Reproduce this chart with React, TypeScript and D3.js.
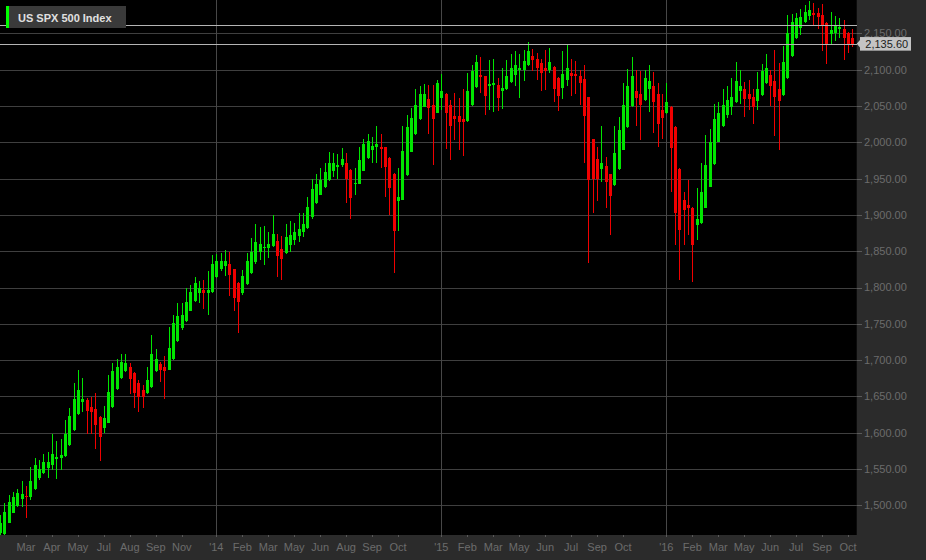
import React from 'react';
import * as d3 from 'd3';

// Weekly OHLC of the US SPX 500 Index
const opens = [
  1462,1460,1476,1490,1499,1509,1513,1512,1522,1538,1544,1552,1555,1564,1565,1568,1583,1604,1626,1642,
  1645,1636,1632,1622,1607,1614,1635,1660,1675,1685,1691,1682,1668,1659,1654,1663,1685,1694,1690,1687,
  1701,1726,1744,1754,1768,1781,1793,1797,1793,1794,1814,1825,1830,1833,1825,1806,1792,1805,1820,1835,
  1849,1854,1854,1857,1864,1853,1847,1858,1865,1871,1877,1882,1897,1916,1928,1938,1948,1960,1966,1969,
  1972,1962,1942,1943,1960,1978,1990,1993,1994,1993,1979,1957,1919,1921,1955,1987,2011,2032,2049,2059,
  2052,2041,2061,2066,2052,2036,2036,2032,2029,2051,2076,2093,2091,2078,2079,2079,2071,2073,2083,2093,
  2100,2100,2106,2119,2115,2109,2102,2100,2104,2089,2075,2086,2095,2094,2092,2087,2062,2004,1977,1963,
  1968,1956,1941,1963,1990,2021,2050,2071,2067,2058,2073,2078,2066,2045,2040,2048,2021,1963,1921,1914,
  1910,1886,1889,1910,1939,1970,2001,2022,2038,2048,2055,2070,2074,2066,2063,2057,2065,2081,2093,2084,
  2073,2065,2088,2119,2143,2157,2166,2174,2178,2178,2175,2165,2149,2151,2156,2156,2150,2143,
];
const highs = [
  1486,1503,1514,1518,1522,1533,1526,1553,1565,1562,1570,1574,1598,1588,1592,1617,1634,1668,1687,1675,
  1648,1649,1654,1623,1637,1679,1696,1701,1709,1709,1696,1683,1673,1666,1690,1735,1715,1698,1705,1745,
  1762,1778,1778,1799,1804,1814,1809,1811,1823,1845,1846,1847,1851,1849,1826,1807,1824,1847,1868,1888,
  1884,1885,1876,1900,1874,1871,1888,1892,1889,1902,1902,1925,1950,1956,1964,1972,1986,1985,1984,1992,
  1985,1963,1964,1994,2005,2012,2007,2022,2011,1994,1980,1958,1965,2022,2038,2047,2074,2077,2080,2079,
  2079,2086,2094,2068,2058,2068,2061,2073,2095,2107,2120,2117,2092,2114,2115,2089,2103,2113,2121,2126,
  2121,2127,2138,2129,2123,2115,2127,2130,2105,2090,2126,2134,2115,2112,2099,2107,2063,2005,1993,2022,
  1980,1957,2022,2035,2081,2101,2117,2100,2098,2100,2106,2097,2082,2066,2082,2050,2022,1964,1931,1948,
  1911,1937,1971,2010,2019,2053,2056,2073,2078,2088,2111,2100,2083,2086,2073,2097,2108,2122,2099,2127,
  2109,2132,2175,2177,2178,2183,2189,2194,2192,2185,2190,2166,2180,2174,2171,2169,2152,2156,
];
const lows = [
  1455,1459,1475,1489,1498,1498,1483,1507,1521,1535,1543,1538,1549,1536,1549,1567,1582,1603,1624,1629,
  1598,1598,1577,1561,1600,1613,1634,1659,1674,1684,1653,1634,1629,1634,1653,1662,1684,1670,1646,1686,
  1700,1725,1741,1753,1767,1780,1778,1771,1762,1793,1813,1823,1816,1788,1767,1738,1790,1804,1819,1833,
  1838,1831,1840,1856,1814,1810,1846,1849,1859,1862,1870,1881,1895,1915,1927,1937,1947,1952,1949,1966,
  1916,1895,1927,1942,1960,1977,1972,1971,1964,1925,1900,1820,1878,1920,1954,1986,2010,2031,2048,2012,
  1969,2040,2045,1991,1976,2003,1989,1981,2028,2050,2075,2068,2038,2045,2042,2043,2046,2072,2082,2078,
  2061,2084,2105,2098,2086,2071,2072,2096,2055,2043,2059,2077,2064,2067,2051,1971,1834,1902,1919,1945,
  1909,1872,1940,1962,1989,2020,2049,2022,2003,2057,2042,2013,1993,2005,2039,1932,1859,1811,1859,1872,
  1807,1865,1888,1910,1938,1969,2000,2021,2033,2037,2054,2053,2035,2045,2025,2044,2064,2080,2050,2008,
  1990,2064,2087,2118,2142,2148,2165,2168,2160,2156,2126,2108,2134,2140,2143,2114,2123,2131,
];
const closes = [
  1476,1491,1505,1511,1517,1516,1511,1533,1555,1550,1560,1559,1571,1566,1569,1598,1623,1647,1659,1646,
  1630,1628,1611,1594,1620,1656,1685,1691,1697,1696,1674,1655,1649,1649,1672,1709,1702,1686,1685,1716,
  1751,1761,1762,1780,1794,1806,1800,1792,1797,1833,1836,1836,1837,1817,1786,1780,1816,1836,1849,1862,
  1860,1856,1860,1874,1843,1839,1869,1872,1877,1880,1887,1911,1935,1942,1948,1959,1971,1972,1969,1977,
  1950,1923,1944,1976,1997,2002,1995,1997,1991,1966,1937,1878,1925,1988,2021,2034,2051,2067,2067,2047,
  2032,2081,2071,2040,2022,2032,2028,2028,2071,2098,2110,2090,2064,2080,2081,2061,2075,2092,2103,2107,
  2103,2112,2126,2114,2102,2095,2098,2110,2074,2064,2094,2103,2092,2091,2081,2036,1948,1950,1949,1972,
  1945,1926,1985,2017,2051,2078,2091,2061,2051,2088,2084,2055,2025,2034,2056,1992,1903,1879,1907,1909,
  1859,1894,1931,1969,2000,2032,2041,2052,2058,2063,2084,2077,2059,2059,2048,2074,2098,2102,2078,2063,
  2057,2111,2150,2166,2171,2173,2180,2182,2175,2172,2160,2135,2154,2160,2159,2143,2136,2135.6,
];

// Axis ticks (candle index of the week each label marks)
const xTickIndex = [6, 12, 18, 24, 30, 36, 42, 50, 56, 62, 68, 74, 80, 86, 92, 102, 108, 114, 120, 126, 132, 138, 144, 154, 160, 166, 172, 178, 184, 190, 196];
const xTickLabels = ['Mar', 'Apr', 'May', 'Jul', 'Aug', 'Sep', 'Nov', "'14", 'Feb', 'Mar', 'May', 'Jun', 'Aug', 'Sep', 'Oct', "'15", 'Feb', 'Mar', 'May', 'Jun', 'Jul', 'Sep', 'Oct', "'16", 'Feb', 'Mar', 'May', 'Jun', 'Jul', 'Sep', 'Oct'];
const yearIndex = [50, 102, 154];
const yTicks = [1500, 1550, 1600, 1650, 1700, 1750, 1800, 1850, 1900, 1950, 2000, 2050, 2100, 2150];
const lastPrice = 2135.6;
const upperLine = 2161.6;
const title = 'US SPX 500 Index';

const W = 926;
const H = 560;
const PLOT_W = 856.7;
const PLOT_H = 535;
const FONT = '"Liberation Sans", Arial, sans-serif';
const GREEN = '#00e600';
const RED = '#f00000';

export default function App() {
  const n = opens.length;
  const x = d3.scaleLinear().domain([0, 198]).range([0, PLOT_W]);
  const y = d3.scaleLinear().domain([1459.1, 2196]).range([PLOT_H, 0]);
  const fmt = d3.format(',.2f');
  const candles = d3.range(n).map((i) => ({ i, o: opens[i], h: highs[i], l: lows[i], c: closes[i] }));

  return (
    <svg width={W} height={H} style={{ position: 'absolute', left: 0, top: 0, display: 'block' }}>
      <defs>
        <clipPath id="plot">
          <rect x={0} y={0} width={PLOT_W} height={PLOT_H} />
        </clipPath>
      </defs>
      <rect x={0} y={0} width={W} height={H} fill="#2b2b2b" />
      <rect x={0} y={0} width={PLOT_W} height={PLOT_H} fill="#000" />
      <g shapeRendering="crispEdges">
        {yTicks.map((v) => (
          <line key={'g' + v} x1={0} x2={PLOT_W} y1={Math.round(y(v)) + 0.5} y2={Math.round(y(v)) + 0.5} stroke="#3f3f3f" />
        ))}
        {yearIndex.map((k) => (
          <line key={'yr' + k} x1={Math.round(x(k)) + 0.5} x2={Math.round(x(k)) + 0.5} y1={0} y2={PLOT_H} stroke="#474747" />
        ))}
      </g>
      <g clipPath="url(#plot)" shapeRendering="crispEdges">
        {candles.map((d) => {
          const cx = Math.round(x(d.i));
          const up = d.c >= d.o;
          const col = up ? GREEN : RED;
          const top = Math.round(y(Math.max(d.o, d.c)));
          const bot = Math.round(y(Math.min(d.o, d.c)));
          const ht = Math.round(y(d.h));
          const lw = Math.round(y(d.l));
          return (
            <g key={d.i}>
              <rect x={cx} y={ht} width={1} height={Math.max(1, lw - ht)} fill={col} />
              <rect x={cx - 1} y={top} width={3} height={Math.max(1, bot - top)} fill={col} />
            </g>
          );
        })}
      </g>
      <g shapeRendering="crispEdges">
        <line x1={0} x2={PLOT_W} y1={Math.round(y(upperLine)) + 0.5} y2={Math.round(y(upperLine)) + 0.5} stroke="#b4b4b4" />
        <line x1={0} x2={PLOT_W} y1={Math.round(y(lastPrice)) + 0.5} y2={Math.round(y(lastPrice)) + 0.5} stroke="#b4b4b4" />
      </g>
      {/* right axis */}
      <g shapeRendering="crispEdges">
        {yTicks.map((v) => (
          <line key={'t' + v} x1={PLOT_W} x2={PLOT_W + 5} y1={Math.round(y(v)) + 0.5} y2={Math.round(y(v)) + 0.5} stroke="#5a5a5a" />
        ))}
      </g>
      {yTicks.map((v) => (
        <text key={'l' + v} x={864} y={y(v)} dy="0.36em" fontFamily={FONT} fontSize={11} fill="#6c6c6c">
          {fmt(v)}
        </text>
      ))}
      {/* last price tag */}
      <g>
        <path
          d={`M${PLOT_W},${y(lastPrice)} L${PLOT_W + 3.5},${y(lastPrice) - 4} L${PLOT_W + 3.5},${y(lastPrice) + 4} Z`}
          fill="#c4c4c4"
        />
        <rect x={PLOT_W + 3.3} y={y(lastPrice) - 6.8} width={51} height={13.6} fill="#c4c4c4" />
        <text x={865.3} y={y(lastPrice)} dy="0.36em" fontFamily={FONT} fontSize={11} fill="#1c1c1c">
          {fmt(lastPrice)}
        </text>
      </g>
      {/* bottom axis */}
      <g shapeRendering="crispEdges">
        {xTickIndex.map((k) => (
          <line key={'xt' + k} x1={Math.round(x(k)) + 0.5} x2={Math.round(x(k)) + 0.5} y1={PLOT_H} y2={PLOT_H + 2} stroke="#5a5a5a" />
        ))}
      </g>
      {xTickIndex.map((k, j) => (
        <text key={'xl' + k} x={x(k)} y={551} textAnchor="middle" fontFamily={FONT} fontSize={11} fill="#6c6c6c">
          {xTickLabels[j]}
        </text>
      ))}
      {/* title */}
      <g>
        <rect x={6} y={6} width={120} height={22} fill="#3a3a3a" />
        <rect x={6} y={6} width={3} height={22} fill="#00ff00" />
        <text x={18} y={21.5} fontFamily={FONT} fontSize={11} fontWeight="bold" fill="#e0e0e0">
          {title}
        </text>
      </g>
    </svg>
  );
}
